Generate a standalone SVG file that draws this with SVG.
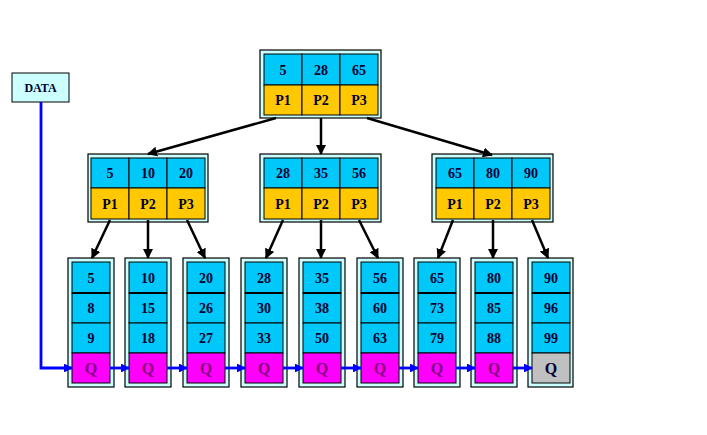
<svg xmlns="http://www.w3.org/2000/svg" width="707" height="435" viewBox="0 0 707 435">
<defs>
<marker id="ab" viewBox="0 0 10 10" refX="9" refY="5" markerWidth="4" markerHeight="4" orient="auto" markerUnits="strokeWidth"><path d="M0,0 L10,5 L0,10 z" fill="#000"/></marker>
<marker id="ablue" viewBox="0 0 10 10" refX="9" refY="5" markerWidth="3.2" markerHeight="3.2" orient="auto" markerUnits="strokeWidth"><path d="M0,0 L10,5 L0,10 z" fill="#0000ff"/></marker>
</defs>
<style>
.frame{fill:#ccffff;stroke:#000;stroke-width:1.2}
.k{fill:#00c8f8;stroke:#000;stroke-width:1}
.p{fill:#ffc800;stroke:#000;stroke-width:1}
.q{fill:#ff00ff;stroke:#000;stroke-width:1}
.g{fill:#c0c0c0;stroke:#000;stroke-width:1}
.sep{stroke:#000;stroke-width:2}
text{font-family:"Liberation Serif","Times New Roman",serif;font-weight:bold;font-size:14px;fill:#000033;text-anchor:middle}
.qt{fill:#800080;font-size:16px}
.qg{fill:#000033;font-size:16px}
.bl{stroke:#000;stroke-width:2.5;fill:none;marker-end:url(#ab)}
.blu{stroke:#0000ff;stroke-width:2.8;fill:none;marker-end:url(#ablue)}
</style>
<rect width="707" height="435" fill="#fff"/>

<g id="data">
<rect x="12" y="73" width="57" height="29" fill="#ccffff" stroke="#000" stroke-width="1"/>
<text x="40.5" y="92" style="font-size:12px">DATA</text>
</g>

<g id="root">
<rect class="frame" x="260" y="50" width="121" height="68"/>
<rect class="k" x="264" y="54" width="38" height="31"/><rect class="k" x="302" y="54" width="38" height="31"/><rect class="k" x="340" y="54" width="38" height="31"/>
<rect class="p" x="264" y="85" width="38" height="30"/><rect class="p" x="302" y="85" width="38" height="30"/><rect class="p" x="340" y="85" width="38" height="30"/>
<text x="283" y="75">5</text><text x="321" y="75">28</text><text x="359" y="75">65</text>
<text x="283" y="105">P1</text><text x="321" y="105">P2</text><text x="359" y="105">P3</text>
</g>

<g id="n1">
<rect class="frame" x="88" y="154" width="120" height="68"/>
<rect class="k" x="91" y="158" width="38" height="30"/><rect class="k" x="129" y="158" width="38" height="30"/><rect class="k" x="167" y="158" width="38" height="30"/>
<rect class="p" x="91" y="188" width="38" height="31"/><rect class="p" x="129" y="188" width="38" height="31"/><rect class="p" x="167" y="188" width="38" height="31"/>
<text x="110" y="178">5</text><text x="148" y="178">10</text><text x="186" y="178">20</text>
<text x="110" y="209">P1</text><text x="148" y="209">P2</text><text x="186" y="209">P3</text>
</g>

<g id="n2">
<rect class="frame" x="260" y="154" width="121" height="68"/>
<rect class="k" x="264" y="158" width="38" height="30"/><rect class="k" x="302" y="158" width="38" height="30"/><rect class="k" x="340" y="158" width="38" height="30"/>
<rect class="p" x="264" y="188" width="38" height="31"/><rect class="p" x="302" y="188" width="38" height="31"/><rect class="p" x="340" y="188" width="38" height="31"/>
<text x="283" y="178">28</text><text x="321" y="178">35</text><text x="359" y="178">56</text>
<text x="283" y="209">P1</text><text x="321" y="209">P2</text><text x="359" y="209">P3</text>
</g>

<g id="n3">
<rect class="frame" x="432" y="154" width="121" height="68"/>
<rect class="k" x="436" y="158" width="38" height="30"/><rect class="k" x="474" y="158" width="38" height="30"/><rect class="k" x="512" y="158" width="38" height="30"/>
<rect class="p" x="436" y="188" width="38" height="31"/><rect class="p" x="474" y="188" width="38" height="31"/><rect class="p" x="512" y="188" width="38" height="31"/>
<text x="455" y="178">65</text><text x="493" y="178">80</text><text x="531" y="178">90</text>
<text x="455" y="209">P1</text><text x="493" y="209">P2</text><text x="531" y="209">P3</text>
</g>

<g id="leaf1"><rect class="frame" x="68" y="258" width="46" height="129"/><rect class="k" x="72" y="262" width="38" height="31"/><rect class="k" x="72" y="293" width="38" height="30"/><rect class="k" x="72" y="323" width="38" height="30"/><rect class="q" x="72" y="353" width="38" height="30"/><line class="sep" x1="72" y1="293" x2="110" y2="293"/>
<text x="91" y="283">5</text><text x="91" y="313">8</text><text x="91" y="343">9</text><text class="qt" x="91" y="374">Q</text></g>
<g id="leaf2"><rect class="frame" x="125" y="258" width="46" height="129"/><rect class="k" x="129" y="262" width="38" height="31"/><rect class="k" x="129" y="293" width="38" height="30"/><rect class="k" x="129" y="323" width="38" height="30"/><rect class="q" x="129" y="353" width="38" height="30"/><line class="sep" x1="129" y1="293" x2="167" y2="293"/>
<text x="148" y="283">10</text><text x="148" y="313">15</text><text x="148" y="343">18</text><text class="qt" x="148" y="374">Q</text></g>
<g id="leaf3"><rect class="frame" x="183" y="258" width="46" height="129"/><rect class="k" x="187" y="262" width="38" height="31"/><rect class="k" x="187" y="293" width="38" height="30"/><rect class="k" x="187" y="323" width="38" height="30"/><rect class="q" x="187" y="353" width="38" height="30"/><line class="sep" x1="187" y1="293" x2="225" y2="293"/>
<text x="206" y="283">20</text><text x="206" y="313">26</text><text x="206" y="343">27</text><text class="qt" x="206" y="374">Q</text></g>
<g id="leaf4"><rect class="frame" x="241" y="258" width="46" height="129"/><rect class="k" x="245" y="262" width="38" height="31"/><rect class="k" x="245" y="293" width="38" height="30"/><rect class="k" x="245" y="323" width="38" height="30"/><rect class="q" x="245" y="353" width="38" height="30"/><line class="sep" x1="245" y1="293" x2="283" y2="293"/>
<text x="264" y="283">28</text><text x="264" y="313">30</text><text x="264" y="343">33</text><text class="qt" x="264" y="374">Q</text></g>
<g id="leaf5"><rect class="frame" x="299" y="258" width="46" height="129"/><rect class="k" x="303" y="262" width="38" height="31"/><rect class="k" x="303" y="293" width="38" height="30"/><rect class="k" x="303" y="323" width="38" height="30"/><rect class="q" x="303" y="353" width="38" height="30"/><line class="sep" x1="303" y1="293" x2="341" y2="293"/>
<text x="322" y="283">35</text><text x="322" y="313">38</text><text x="322" y="343">50</text><text class="qt" x="322" y="374">Q</text></g>
<g id="leaf6"><rect class="frame" x="357" y="258" width="46" height="129"/><rect class="k" x="361" y="262" width="38" height="31"/><rect class="k" x="361" y="293" width="38" height="30"/><rect class="k" x="361" y="323" width="38" height="30"/><rect class="q" x="361" y="353" width="38" height="30"/><line class="sep" x1="361" y1="293" x2="399" y2="293"/>
<text x="380" y="283">56</text><text x="380" y="313">60</text><text x="380" y="343">63</text><text class="qt" x="380" y="374">Q</text></g>
<g id="leaf7"><rect class="frame" x="414" y="258" width="46" height="129"/><rect class="k" x="418" y="262" width="38" height="31"/><rect class="k" x="418" y="293" width="38" height="30"/><rect class="k" x="418" y="323" width="38" height="30"/><rect class="q" x="418" y="353" width="38" height="30"/><line class="sep" x1="418" y1="293" x2="456" y2="293"/>
<text x="437" y="283">65</text><text x="437" y="313">73</text><text x="437" y="343">79</text><text class="qt" x="437" y="374">Q</text></g>
<g id="leaf8"><rect class="frame" x="471" y="258" width="46" height="129"/><rect class="k" x="475" y="262" width="38" height="31"/><rect class="k" x="475" y="293" width="38" height="30"/><rect class="k" x="475" y="323" width="38" height="30"/><rect class="q" x="475" y="353" width="38" height="30"/><line class="sep" x1="475" y1="293" x2="513" y2="293"/>
<text x="494" y="283">80</text><text x="494" y="313">85</text><text x="494" y="343">88</text><text class="qt" x="494" y="374">Q</text></g>
<g id="leaf9"><rect class="frame" x="528" y="258" width="45" height="129"/><rect class="k" x="532" y="262" width="38" height="31"/><rect class="k" x="532" y="293" width="38" height="30"/><rect class="k" x="532" y="323" width="38" height="30"/><rect class="g" x="532" y="353" width="38" height="30"/><line class="sep" x1="532" y1="293" x2="570" y2="293"/>
<text x="551" y="283">90</text><text x="551" y="313">96</text><text x="551" y="343">99</text><text class="qg" x="551" y="374">Q</text></g>

<g id="connectors">
<line class="bl" x1="276" y1="118" x2="148" y2="154"/>
<line class="bl" x1="321" y1="118" x2="321" y2="154"/>
<line class="bl" x1="367" y1="118" x2="492" y2="155"/>
<line class="bl" x1="110" y1="220" x2="92" y2="258"/>
<line class="bl" x1="148" y1="220" x2="148" y2="258"/>
<line class="bl" x1="187" y1="220" x2="205" y2="258"/>
<line class="bl" x1="283" y1="220" x2="266" y2="258"/>
<line class="bl" x1="321" y1="220" x2="321" y2="258"/>
<line class="bl" x1="359" y1="220" x2="378" y2="258"/>
<line class="bl" x1="453" y1="220" x2="438" y2="258"/>
<line class="bl" x1="493" y1="220" x2="493" y2="258"/>
<line class="bl" x1="532" y1="220" x2="548" y2="258"/>
<polyline class="blu" points="41,102 41,368 72,368"/>
<line class="blu" x1="110" y1="368" x2="129" y2="368"/>
<line class="blu" x1="167" y1="368" x2="187" y2="368"/>
<line class="blu" x1="225" y1="368" x2="245" y2="368"/>
<line class="blu" x1="283" y1="368" x2="303" y2="368"/>
<line class="blu" x1="341" y1="368" x2="361" y2="368"/>
<line class="blu" x1="399" y1="368" x2="418" y2="368"/>
<line class="blu" x1="456" y1="368" x2="475" y2="368"/>
<line class="blu" x1="513" y1="368" x2="532" y2="368"/>
</g>
</svg>
